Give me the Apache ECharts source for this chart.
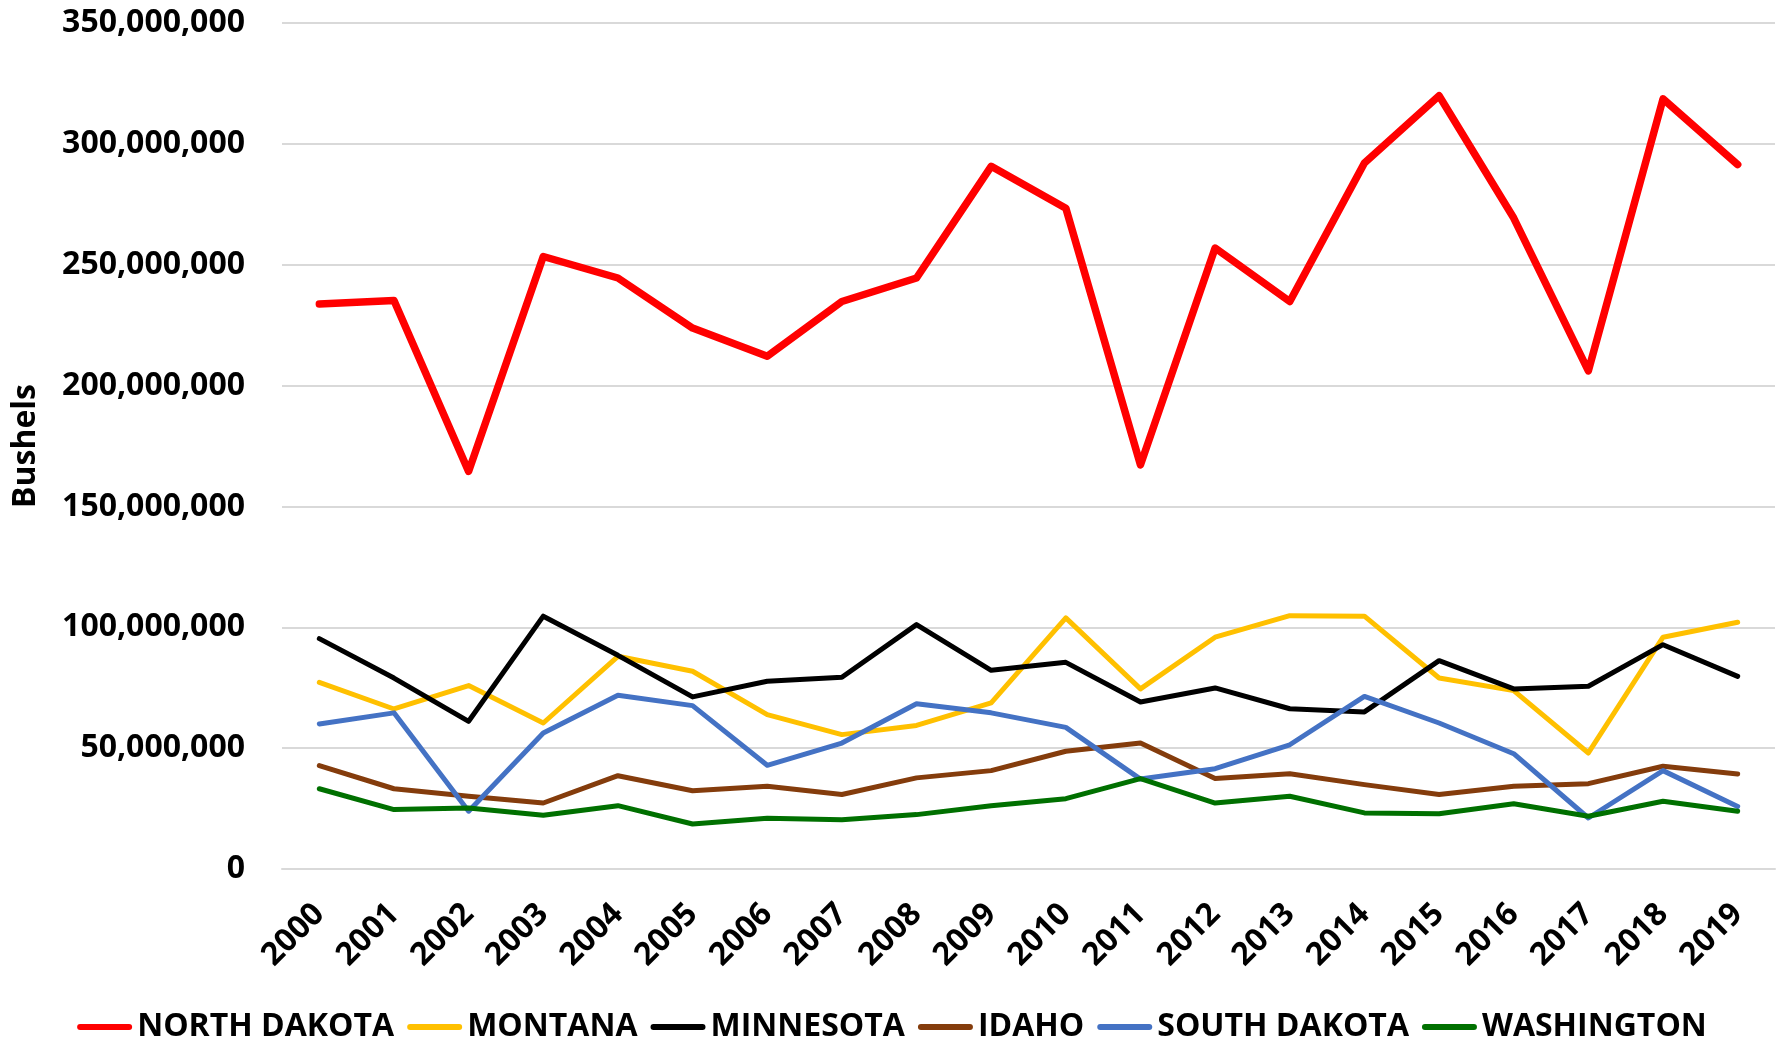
<!DOCTYPE html>
<html>
<head>
<meta charset="utf-8">
<title>Bushels by state</title>
<script src="https://cdn.jsdelivr.net/npm/echarts@6/dist/echarts.min.js"></script>
<style>
  html, body { margin: 0; padding: 0; background: #fff; }
  #chart { width: 1784px; height: 1046px; }
</style>
</head>
<body>
<div id="chart"></div>
<script>
// years on the x axis
const years = ['2000', '2001', '2002', '2003', '2004', '2005', '2006', '2007', '2008', '2009',
  '2010', '2011', '2012', '2013', '2014', '2015', '2016', '2017', '2018', '2019']

// production in bushels (millions)
const northDakota = [233.7, 235.2, 164.5, 253.4, 244.5, 223.8, 212.1, 234.8, 244.5, 290.7,
  273.4, 167.2, 256.9, 234.8, 292.1, 319.9, 269.3, 206.1, 318.6, 291.4]
const montana = [77.2, 66.2, 75.9, 60.4, 88.0, 81.8, 63.9, 55.6, 59.4, 68.7,
  103.9, 74.5, 95.9, 104.8, 104.6, 79.0, 73.8, 48.0, 95.9, 102.1]
const minnesota = [95.3, 79.0, 61.1, 104.6, 88.4, 71.2, 77.7, 79.3, 101.1, 82.2,
  85.5, 69.1, 74.9, 66.3, 65.0, 86.2, 74.5, 75.6, 92.8, 79.7]
const idaho = [42.8, 33.2, 30.1, 27.3, 38.6, 32.4, 34.2, 30.8, 37.7, 40.7,
  48.7, 52.1, 37.4, 39.4, 34.9, 30.8, 34.2, 35.3, 42.5, 39.3]
const southDakota = [60.0, 64.6, 23.9, 56.3, 71.9, 67.6, 42.9, 52.1, 68.4, 64.6,
  58.6, 37.2, 41.5, 51.4, 71.4, 60.4, 47.7, 21.1, 40.7, 25.9]
const washington = [33.2, 24.6, 25.2, 22.2, 26.2, 18.6, 21.0, 20.4, 22.5, 26.2,
  29.1, 37.4, 27.3, 30.1, 23.2, 22.9, 27.0, 21.8, 28.0, 23.9]

const seriesNames = ['NORTH DAKOTA', 'MONTANA', 'MINNESOTA', 'IDAHO', 'SOUTH DAKOTA', 'WASHINGTON']
const seriesData = [northDakota, montana, minnesota, idaho, southDakota, washington]
const seriesColors = ['#ff0000', '#ffc000', '#000000', '#843c0c', '#4472c4', '#007000']
const seriesWidths = [7.5, 5, 5, 5, 5, 5]

const font = '"Open Sans", "DejaVu Sans", sans-serif'
const M = 1000000

const chart = echarts.init(document.getElementById('chart'))

const option = {
  animation: false,
  backgroundColor: '#fff',
  color: seriesColors,
  grid: {
    left: 282,
    right: 9,
    top: 23,
    bottom: 177
  },
  legend: {
    data: seriesNames,
    left: 'center',
    top: 1006,
    itemWidth: 55,
    itemHeight: 7,
    itemGap: 13,
    // pill shaped line icon
    icon: 'path://M3,0 L52,0 A3,3 0 0 1 52,6 L3,6 A3,3 0 0 1 3,0 Z',
    textStyle: {
      fontFamily: font,
      fontWeight: 'bold',
      fontSize: 32,
      color: '#000'
    }
  },
  xAxis: {
    type: 'category',
    data: years,
    boundaryGap: true,
    axisLine: { lineStyle: { color: '#d9d9d9', width: 2 } },
    axisTick: { show: false },
    axisLabel: {
      rotate: 45,
      margin: 40,
      interval: 0,
      fontFamily: font,
      fontWeight: 'bold',
      fontSize: 32,
      color: '#000'
    }
  },
  yAxis: {
    type: 'value',
    min: 0,
    max: 350 * M,
    interval: 50 * M,
    name: 'Bushels',
    nameLocation: 'middle',
    nameRotate: 90,
    nameGap: 240,
    nameTextStyle: {
      fontFamily: font,
      fontWeight: 'bold',
      fontSize: 32,
      color: '#000'
    },
    axisLine: { show: false },
    axisTick: { show: false },
    splitLine: { lineStyle: { color: '#d9d9d9', width: 2 } },
    axisLabel: {
      margin: 37,
      fontFamily: font,
      fontWeight: 'bold',
      fontSize: 32,
      color: '#000',
      formatter: (v) => v.toLocaleString('en-US')
    }
  },
  series: seriesNames.map((name, i) => ({
    name: name,
    type: 'line',
    data: seriesData[i].map((v) => v * M),
    symbol: 'none',
    lineStyle: { width: seriesWidths[i], color: seriesColors[i], cap: 'round', join: 'round' },
    itemStyle: { color: seriesColors[i] }
  }))
}

chart.setOption(option)
</script>
</body>
</html>
